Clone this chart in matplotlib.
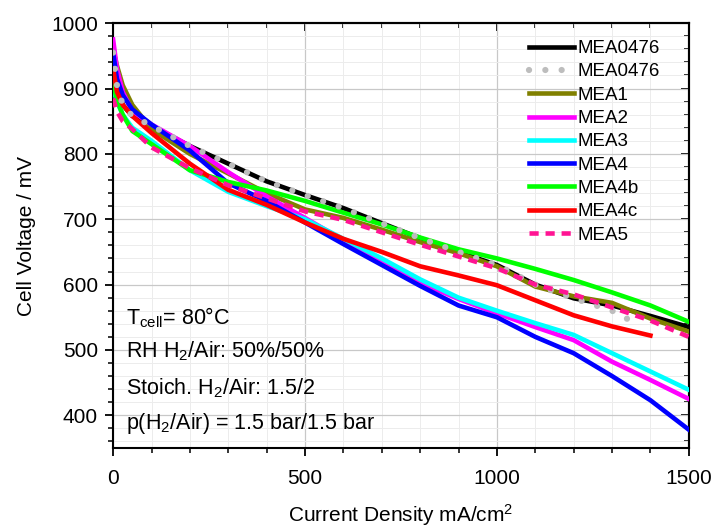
import matplotlib
matplotlib.use("Agg")
import matplotlib.pyplot as plt
from matplotlib.ticker import MultipleLocator

plt.rcParams['font.family'] = ['Liberation Sans', 'DejaVu Sans']
plt.rcParams['mathtext.fontset'] = 'custom'
plt.rcParams['mathtext.rm'] = 'Liberation Sans'
plt.rcParams['mathtext.it'] = 'Liberation Sans:italic'

x_full = [0, 10, 25, 50, 100, 200, 300, 400, 500, 600, 700, 800, 900, 1000, 1100, 1200, 1300, 1400, 1500]

mea0476 = [955, 905, 875, 858, 843, 812, 785, 758, 737, 717, 694, 671, 650, 630, 600, 579, 568, 552, 535]
x_0476_dot = [0, 10, 25, 50, 100, 200, 300, 400, 500, 600, 700, 800, 900, 1000, 1100, 1200, 1300, 1370]
mea0476_dot = [955, 905, 875, 858, 843, 812, 785, 758, 737, 717, 694, 671, 650, 630, 600, 579, 560, 538]
mea1 = [960, 935, 905, 875, 838, 800, 770, 740, 715, 702, 684, 665, 648, 628, 597, 582, 572, 548, 528]
mea2 = [975, 930, 895, 865, 845, 812, 772, 735, 702, 668, 635, 603, 578, 556, 535, 515, 482, 454, 425]
mea3 = [900, 880, 860, 840, 820, 775, 742, 720, 700, 670, 640, 608, 580, 560, 541, 523, 495, 467, 439]
mea4 = [955, 915, 890, 868, 845, 805, 755, 728, 695, 662, 630, 598, 568, 550, 520, 495, 460, 423, 378]
mea4b = [908, 882, 860, 835, 815, 775, 757, 744, 728, 710, 692, 672, 654, 640, 624, 607, 588, 568, 543]
x_4c = [0, 10, 25, 50, 100, 200, 300, 400, 500, 600, 700, 800, 900, 1000, 1100, 1200, 1300, 1400]
mea4c = [930, 895, 875, 858, 832, 785, 745, 722, 695, 670, 650, 628, 614, 599, 576, 553, 536, 522]
mea5 = [885, 865, 850, 838, 810, 778, 752, 732, 712, 699, 680, 661, 643, 625, 600, 585, 565, 545, 520]

fig = plt.figure(figsize=(7.16, 5.27), dpi=100)
ax = fig.add_axes([0.158, 0.150, 0.804, 0.806])

lw = 3.3
ax.plot(x_full, mea0476, color='black', lw=lw, label='MEA0476', zorder=3)
ax.plot(x_0476_dot, mea0476_dot, color='#bdbdbd', lw=lw + 1.2, ls=(0, (0.01, 2.6)),
        dash_capstyle='round', solid_capstyle='round', label='MEA0476', zorder=4)
ax.plot(x_full, mea1, color='#808000', lw=lw, label='MEA1', zorder=3)
ax.plot(x_full, mea2, color='#ff00ff', lw=lw, label='MEA2', zorder=3)
ax.plot(x_full, mea3, color='#00ffff', lw=lw, label='MEA3', zorder=3)
ax.plot(x_full, mea4, color='#0000ff', lw=lw, label='MEA4', zorder=3)
ax.plot(x_full, mea4b, color='#00ff00', lw=lw, label='MEA4b', zorder=3)
ax.plot(x_4c, mea4c, color='#ff0000', lw=lw, label='MEA4c', zorder=3)
ax.plot(x_full, mea5, color='#ff1493', lw=lw, ls=(0, (2.0, 1.5)), label='MEA5', zorder=5)

ax.set_xlim(0, 1500)
ax.set_ylim(350, 1000)
ax.xaxis.set_major_locator(MultipleLocator(500))
ax.xaxis.set_minor_locator(MultipleLocator(100))
ax.yaxis.set_major_locator(MultipleLocator(100))
ax.yaxis.set_minor_locator(MultipleLocator(20))
ax.grid(which='major', color='#c8c8c8', lw=0.9, zorder=0)
ax.grid(which='minor', color='#ececec', lw=0.7, zorder=0)
ax.set_axisbelow(True)

for s in ax.spines.values():
    s.set_linewidth(1.5)

ax.tick_params(axis='both', which='major', direction='out', length=6, width=1.3,
               labelsize=15, top=False, right=False)
ax.tick_params(axis='both', which='minor', direction='out', length=3.5, width=1.1,
               top=False, right=False)
ax.tick_params(axis='x', which='major', pad=9)
ax.tick_params(axis='y', which='major', pad=5)

# mirrored inward ticks on top and right
axt = ax.secondary_xaxis('top')
axt.xaxis.set_major_locator(MultipleLocator(500))
axt.xaxis.set_minor_locator(MultipleLocator(100))
axt.tick_params(which='major', direction='in', length=6, width=1.3, labeltop=False)
axt.tick_params(which='minor', direction='in', length=3.5, width=1.1)
axt.spines['top'].set_linewidth(1.5)
axr = ax.secondary_yaxis('right')
axr.yaxis.set_major_locator(MultipleLocator(100))
axr.yaxis.set_minor_locator(MultipleLocator(20))
axr.tick_params(which='major', direction='in', length=6, width=1.3, labelright=False)
axr.tick_params(which='minor', direction='in', length=3.5, width=1.1)
axr.spines['right'].set_linewidth(1.5)

ax.set_xlabel('Current Density mA/cm$^2$', fontsize=15, labelpad=10)
ax.set_ylabel('Cell Voltage / mV', fontsize=15, labelpad=11)

leg = ax.legend(loc='upper right', fontsize=13.5, frameon=False, handlelength=2.4,
                handletextpad=0.15, labelspacing=0.33, borderaxespad=0.0,
                bbox_to_anchor=(0.962, 0.978))

ann = dict(fontsize=15.5, transform=ax.transAxes, va='center', ha='left')
ax.text(0.022, 0.306, 'T$_{\\mathrm{cell}}$= 80°C', **ann)
ax.text(0.022, 0.228, 'RH H$_{2}$/Air: 50%/50%', **ann)
ax.text(0.022, 0.141, 'Stoich. H$_{2}$/Air: 1.5/2', **ann)
ax.text(0.022, 0.058, 'p(H$_{2}$/Air) = 1.5 bar/1.5 bar', **ann)

fig.savefig('out.png', dpi=100)
